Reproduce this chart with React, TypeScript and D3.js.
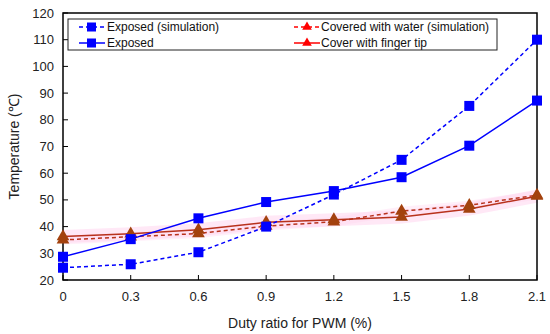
import { scaleLinear, line, symbol, symbolTriangle } from "d3";

const duty = [0, 0.3, 0.6, 0.9, 1.2, 1.5, 1.8, 2.1];
const exposedSim = [24.6, 25.9, 30.4, 40, 52, 65, 85.2, 110];
const exposed = [28.7, 35.3, 43.1, 49.2, 53.3, 58.5, 70.3, 87.2];
const waterSim = [35, 36.2, 37.4, 40.2, 41.8, 45.8, 48, 51.8];
const fingerTip = [36.3, 37.3, 38.8, 41.6, 42.6, 43.6, 46.6, 51.4];
const xTicks = [0, 0.3, 0.6, 0.9, 1.2, 1.5, 1.8, 2.1];
const yTicks = [20, 30, 40, 50, 60, 70, 80, 90, 100, 110, 120];

const left = 63, right = 537, top = 13, bottom = 280;
const blue = "#0000ff";
const red = "#b8321c";
const legendRed = "#ff0000";
const marker = "#a3420e";

export default function App() {
  const x = scaleLinear().domain([0, 2.1]).range([left, right]);
  const y = scaleLinear().domain([20, 120]).range([bottom, top]);
  const pathOf = (vals: number[]) =>
    line<number>().x((_, i) => x(duty[i])).y((d) => y(d))(vals) || "";
  const tri = symbol().type(symbolTriangle).size(70)() || "";
  const smallTri = symbol().type(symbolTriangle).size(40)() || "";
  const font = "'Liberation Sans', Arial, sans-serif";

  const squares = (vals: number[]) =>
    vals.map((v, i) => (
      <rect key={i} x={x(duty[i]) - 5} y={y(v) - 5} width={10} height={10} fill={blue} />
    ));
  const triangles = (vals: number[]) =>
    vals.map((v, i) => (
      <path key={i} d={tri} transform={`translate(${x(duty[i])},${y(v)})`} fill={marker} />
    ));

  return (
    <svg width={550} height={334} style={{ position: "absolute", left: 0, top: 0, background: "#fff" }} fontFamily={font}>
      {/* pink highlight behind the red series */}
      <path d={pathOf(fingerTip)} fill="none" stroke="#ffd8f0" strokeWidth={13} opacity={0.6} />
      <path d={pathOf(waterSim)} fill="none" stroke="#ffd8f0" strokeWidth={9} opacity={0.4} />

      {/* axes */}
      <rect x={left} y={top} width={right - left} height={bottom - top} fill="none" stroke="#000" strokeWidth={1.5} />
      {yTicks.map((t) => (
        <g key={t}>
          <line x1={left} x2={left + 5} y1={y(t)} y2={y(t)} stroke="#000" />
          <text x={left - 9} y={y(t)} dy="0.35em" textAnchor="end" fontSize={13} fill="#222">
            {t}
          </text>
        </g>
      ))}
      {xTicks.map((t) => (
        <g key={t}>
          <line x1={x(t)} x2={x(t)} y1={bottom} y2={bottom - 5} stroke="#000" />
          <text x={x(t)} y={bottom + 21} textAnchor="middle" fontSize={13} fill="#222">
            {t}
          </text>
        </g>
      ))}
      <text x={300} y={328} textAnchor="middle" fontSize={14} fill="#222">
        Duty ratio for PWM (%)
      </text>
      <text transform={`translate(19,${(top + bottom) / 2}) rotate(-90)`} textAnchor="middle" fontSize={14} fill="#222">
        Temperature (℃)
      </text>

      {/* series */}
      <path d={pathOf(waterSim)} fill="none" stroke={red} strokeWidth={1.5} strokeDasharray="4 3" />
      <path d={pathOf(fingerTip)} fill="none" stroke={red} strokeWidth={1.5} />
      {triangles(waterSim)}
      {triangles(fingerTip)}
      <path d={pathOf(exposedSim)} fill="none" stroke={blue} strokeWidth={1.5} strokeDasharray="4 3" />
      <path d={pathOf(exposed)} fill="none" stroke={blue} strokeWidth={1.5} />
      {squares(exposedSim)}
      {squares(exposed)}

      {/* legend */}
      <g fontSize={12} fill="#111">
        <rect x={68} y={19} width={429} height={31} fill="#fff" stroke="#222" />
        <line x1={79} x2={105} y1={27} y2={27} stroke={blue} strokeWidth={1.5} strokeDasharray="4 3" />
        <rect x={87} y={22.5} width={9} height={9} fill={blue} />
        <text x={107} y={27} dy="0.35em">Exposed (simulation)</text>
        <line x1={79} x2={105} y1={43} y2={43} stroke={blue} strokeWidth={1.5} />
        <rect x={87} y={38.5} width={9} height={9} fill={blue} />
        <text x={107} y={43} dy="0.35em">Exposed</text>
        <line x1={294} x2={320} y1={27} y2={27} stroke={legendRed} strokeWidth={1.5} strokeDasharray="4 3" />
        <path d={smallTri} transform="translate(307,27)" fill={legendRed} />
        <text x={321} y={27} dy="0.35em">Covered with water (simulation)</text>
        <line x1={294} x2={320} y1={43} y2={43} stroke={legendRed} strokeWidth={1.5} />
        <path d={smallTri} transform="translate(307,43)" fill={legendRed} />
        <text x={321} y={43} dy="0.35em">Cover with finger tip</text>
      </g>
    </svg>
  );
}
